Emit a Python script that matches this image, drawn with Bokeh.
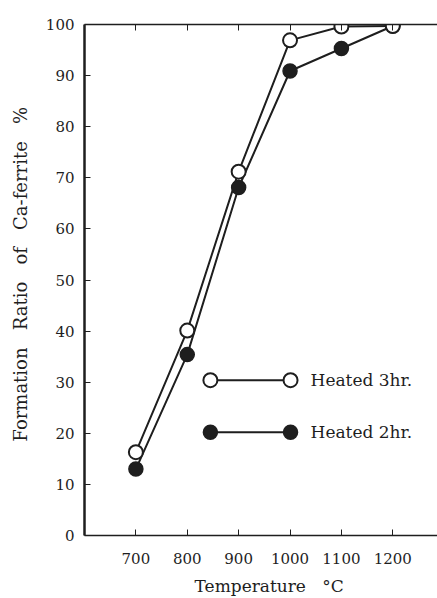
from bokeh.plotting import figure
from bokeh.models import LinearAxis, FixedTicker, Range1d, Label
from bokeh.embed import file_html
from bokeh.resources import INLINE

# Data
temperature = [700, 800, 900, 1000, 1100, 1200]
heated_3hr = [16.3, 40.1, 71.2, 96.9, 99.6, 99.7]
heated_2hr = [13.0, 35.4, 68.1, 90.9, 95.3, 99.7]
x_ticks = [700, 800, 900, 1000, 1100, 1200]
y_ticks = [0, 10, 20, 30, 40, 50, 60, 70, 80, 90, 100]
series_labels = ["Heated 3hr.", "Heated 2hr."]

FONT = "DejaVu Serif"
INK = "#1e1e1e"
NB = "\u00a0"

p = figure(width=437, height=598, x_range=Range1d(600, 1287), y_range=Range1d(0, 100),
           output_backend="svg", toolbar_location=None,
           min_border_left=84, min_border_top=24, min_border_right=0, min_border_bottom=60,
           x_axis_location=None, y_axis_location=None)
p.grid.visible = False
p.outline_line_color = None
p.background_fill_color = "white"
p.border_fill_color = "white"

left = LinearAxis(ticker=FixedTicker(ticks=y_ticks),
                  axis_label=NB * 2 + "Formation" + NB * 3 + "Ratio" + NB * 3 + "of" + NB * 3
                  + "Ca-ferrite" + NB * 3 + "%")
bottom = LinearAxis(ticker=FixedTicker(ticks=x_ticks),
                    axis_label=NB * 3 + "Temperature" + NB * 3 + "°C")
top = LinearAxis(ticker=FixedTicker(ticks=x_ticks))

for ax in (left, bottom, top):
    ax.axis_line_color = INK
    ax.major_tick_line_color = INK
    ax.major_tick_in = 6
    ax.major_tick_out = 0
    ax.minor_tick_line_color = None
    ax.major_label_text_font = FONT
    ax.major_label_text_font_size = "15px"
    ax.major_label_text_color = INK
    ax.axis_label_text_font = FONT
    ax.axis_label_text_font_size = "17px"
    ax.axis_label_text_font_style = "normal"
    ax.axis_label_text_color = INK
top.major_label_overrides = {t: "" for t in x_ticks}
left.axis_label_text_font_size = "18px"
left.axis_line_width = 2.5
bottom.axis_line_width = 1.5
top.axis_line_width = 1.5
left.major_label_standoff = 10
left.axis_label_standoff = 12
bottom.major_label_standoff = 17
bottom.axis_label_standoff = 9

p.add_layout(left, "left")
p.add_layout(bottom, "below")
p.add_layout(top, "above")

# series
p.line(temperature, heated_2hr, line_color=INK, line_width=2)
p.line(temperature, heated_3hr, line_color=INK, line_width=2)
p.scatter(temperature, heated_2hr, size=14, fill_color=INK, line_color=INK, line_width=1.5)
p.scatter(temperature, heated_3hr, size=14, fill_color="white", line_color=INK, line_width=2)

# legend key (drawn in plot space)
key_x = [845, 1001]
key_y = [30.4, 20.2]
text_x = 1040
p.line(key_x, [key_y[0]] * 2, line_color=INK, line_width=2)
p.scatter(key_x, [key_y[0]] * 2, size=14, fill_color="white", line_color=INK, line_width=2)
p.line(key_x, [key_y[1]] * 2, line_color=INK, line_width=2)
p.scatter(key_x, [key_y[1]] * 2, size=14, fill_color=INK, line_color=INK, line_width=1.5)
for yy, lab in zip(key_y, series_labels):
    p.add_layout(Label(x=text_x, y=yy, text=lab, text_font=FONT, text_font_size="17px",
                       text_color=INK, text_baseline="middle"))

open("out.html", "w").write(file_html(p, INLINE))
